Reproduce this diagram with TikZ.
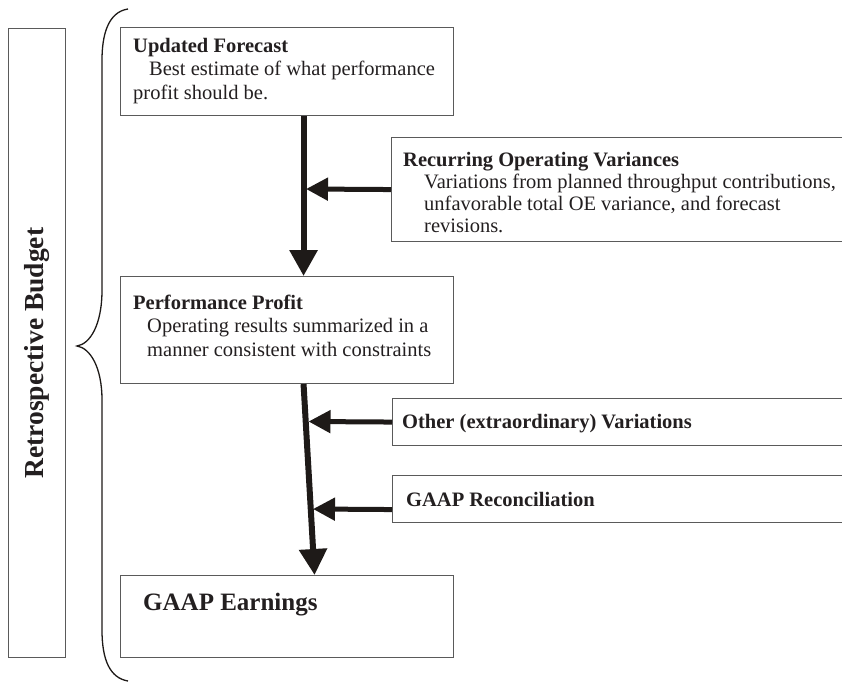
\documentclass[tikz,border=0pt]{standalone}
\usepackage{fontspec}
\setmainfont{Liberation Serif}
\usetikzlibrary{arrows.meta}
\definecolor{boxgray}{HTML}{5A5A5A}
\definecolor{inkblack}{HTML}{1E1A18}
\definecolor{textblack}{HTML}{231F20}
\begin{document}
\begin{tikzpicture}[x=1pt,y=-1pt,
  box/.style={draw=boxgray, line width=1.1pt, rectangle, inner sep=0pt, anchor=north west},
  txt/.style={anchor=north west, inner sep=0pt, align=left, text=textblack,
              font=\fontsize{20.5}{23.5}\selectfont},
  txtb/.style={txt, font=\fontsize{20.5}{22}\selectfont},
  bigarrow/.style={line width=6pt, draw=inkblack, -{Triangle[width=27pt,length=26pt]}},
  sidearrow/.style={line width=5pt, draw=inkblack, -{Triangle[width=22pt,length=22pt]}},
  bracestyle/.style={draw=inkblack, line width=1.3pt}
]
\useasboundingbox (0,0) rectangle (842,682);
\clip (0,0) rectangle (842,682);
\fill[white] (0,0) rectangle (842,682);

% boxes
\node[box, minimum width=57pt,  minimum height=629pt] (side)  at (8,28) {};
\node[box, minimum width=333pt, minimum height=88pt]  (uf)    at (120,27) {};
\node[box, minimum width=460pt, minimum height=104pt] (rec)   at (391,137) {};
\node[box, minimum width=333pt, minimum height=107pt] (perf)  at (120,276) {};
\node[box, minimum width=460pt, minimum height=47pt]  (other) at (392,398) {};
\node[box, minimum width=460pt, minimum height=47pt]  (recon) at (392,475) {};
\node[box, minimum width=333pt, minimum height=82pt]  (ge)    at (120,575) {};

% texts
\node[txt] (uft) at (133,37)
  {\rule{0pt}{15pt}\textbf{Updated Forecast}\\\hspace{16pt}Best estimate of what performance\\profit should be.};
\node[txtb] (rect) at (403,151)
  {\rule{0pt}{15pt}\textbf{Recurring Operating Variances}\\\hspace{21pt}Variations from planned throughput contributions,\\\hspace{21pt}unfavorable total OE variance, and forecast\\\hspace{21pt}revisions.};
\node[txt] (perft) at (133,294)
  {\rule{0pt}{15pt}\textbf{Performance Profit}\\\hspace{14pt}Operating results summarized in a\\\hspace{14pt}manner consistent with constraints};
\node[txt] (othert) at (402,413) {\rule{0pt}{15pt}\textbf{Other (extraordinary) Variations}};
\node[txt] (recont) at (406,491) {\rule{0pt}{15pt}\textbf{GAAP Reconciliation}};
\node[txt, font=\fontsize{25}{28}\selectfont] (get) at (143,592) {\rule{0pt}{18pt}\textbf{GAAP Earnings}};
\node[text=textblack, font=\fontsize{27.5}{30}\selectfont\bfseries, rotate=90, inner sep=0pt] (sidet) at (37,353) {Retrospective Budget};

% brace
\draw[bracestyle] (128,9) .. controls (108,12) and (102,35) .. (102,60) -- (102,290)
  .. controls (102,325) and (90,344) .. (77,346)
  .. controls (90,348) and (102,367) .. (102,400) -- (102,630)
  .. controls (102,660) and (110,678) .. (128,681);

% main flow arrows
\draw[bigarrow] ([xshift=16.5pt]uf.south) -- ([xshift=16.5pt]perf.north);
\draw[bigarrow] ([xshift=16.5pt]perf.south) -- ([xshift=27.5pt]ge.north);

% side arrows
\coordinate (j1) at (306,189);
\coordinate (j2) at (308.5,421.5);
\coordinate (j3) at (313,509);
\draw[sidearrow] (rec.west) -- (j1);
\draw[sidearrow] (other.west) -- (j2);
\draw[sidearrow] ([yshift=-10.5pt]recon.west) -- (j3);
\end{tikzpicture}
\end{document}
